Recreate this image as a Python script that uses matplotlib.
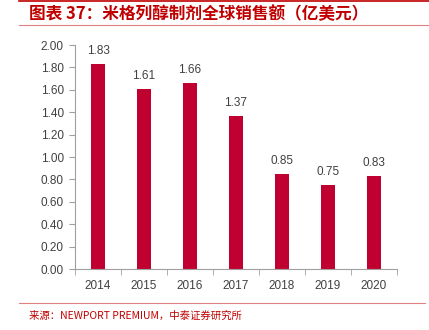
import numpy as np
import matplotlib
matplotlib.use("Agg")
import matplotlib.pyplot as plt
from matplotlib.lines import Line2D

years = ["2014", "2015", "2016", "2017", "2018", "2019", "2020"]
sales = [1.83, 1.61, 1.66, 1.37, 0.85, 0.75, 0.83]
title_text = "图表 37：米格列醇制剂全球销售额（亿美元）"
source_text = "来源：NEWPORT PREMIUM，中泰证券研究所"

plt.rcParams['font.family'] = ['Liberation Sans', 'Noto Sans CJK SC', 'DejaVu Sans']

fig = plt.figure(figsize=(4.29, 3.30), dpi=100)
ax = fig.add_axes([75/429, 1 - 269/330, 322/429, 224/330])

x = np.arange(len(years))
bars = ax.bar(x, sales, width=0.32, color="#C00030", zorder=2)
for xi, v in zip(x, sales):
	ax.annotate(f"{v:.2f}", (xi, v), xytext=(0, 5), textcoords="offset points",
		ha="center", va="bottom", fontsize=8.5, color="#404040")

ax.set_xlim(-0.5, len(years) - 0.5)
ax.set_ylim(0, 2.0)
ax.set_yticks(np.arange(0, 2.01, 0.2))
ax.set_yticklabels([f"{t:.2f}" for t in np.arange(0, 2.01, 0.2)])
ax.set_xticks(x)
ax.set_xticklabels(years)
ax.set_xticks(np.arange(-0.5, len(years), 1), minor=True)
ax.tick_params(axis="x", which="major", length=0, pad=8, labelsize=8.5, labelcolor="#404040")
ax.tick_params(axis="x", which="minor", length=4, color="#A0A0A0")
ax.tick_params(axis="y", length=4, color="#A0A0A0", labelsize=8.5, labelcolor="#404040", pad=4)
for s in ["top", "right"]:
	ax.spines[s].set_visible(False)
for s in ["left", "bottom"]:
	ax.spines[s].set_color("#A0A0A0")
	ax.spines[s].set_linewidth(0.8)

# header / footer decorations
fig.add_artist(Line2D([19/429, 1], [1 - 1/330, 1 - 1/330], color="#C00000", lw=1.2))
fig.add_artist(Line2D([19/429, 1], [1 - 25/330, 1 - 25/330], color="#E08080", lw=0.8))
fig.add_artist(Line2D([19/429, 425/429], [1 - 303/330, 1 - 303/330], color="#E08080", lw=0.8))
fig.text(29/429, 1 - 14/330, title_text, fontsize=12, fontweight="bold", color="#C00000",
	va="center", ha="left", family=['Noto Sans CJK SC', 'DejaVu Sans'])
fig.text(29/429, 1 - 316/330, source_text, fontsize=7.5, color="#C00000",
	va="center", ha="left", family=['Noto Sans CJK SC', 'DejaVu Sans'])

plt.savefig("out.png", dpi=100)
